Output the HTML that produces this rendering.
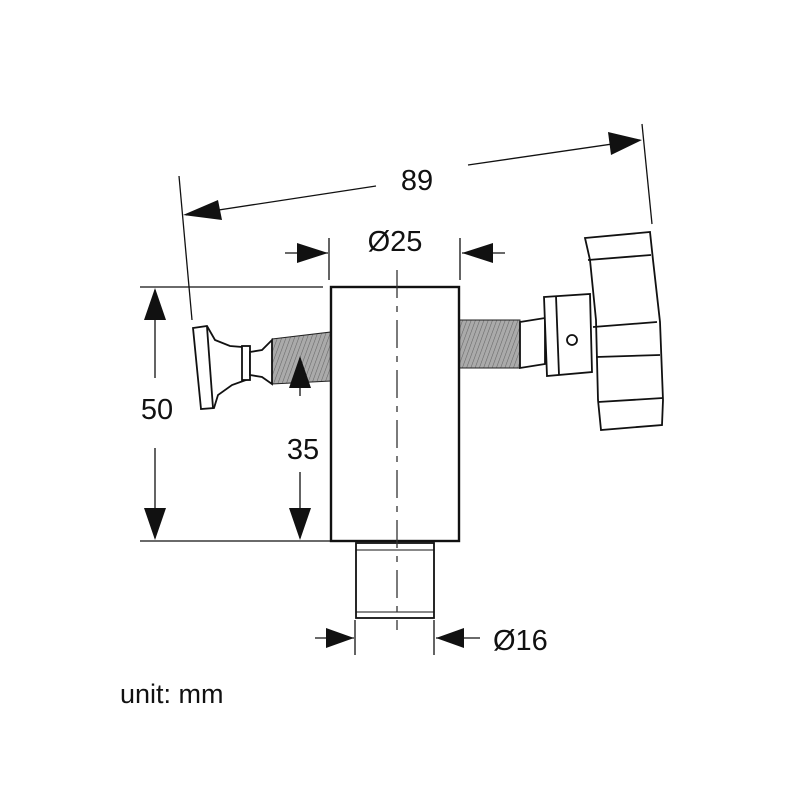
<!DOCTYPE html>
<html><head><style>body{margin:0;background:#fff}svg{display:block}text{font-family:"Liberation Sans",sans-serif;fill:#111}</style></head>
<body>
<svg width="800" height="800" viewBox="0 0 800 800" xmlns="http://www.w3.org/2000/svg">
<defs>
<pattern id="th" width="4" height="6" patternUnits="userSpaceOnUse" patternTransform="rotate(20)">
<rect width="4" height="6" fill="#aaa"/><line x1="0" y1="0" x2="0" y2="6" stroke="#666" stroke-width="1.1"/>
</pattern>
</defs>
<!-- left threads -->
<polygon points="272,339 331,332 331,381 272,384" fill="url(#th)" stroke="#222" stroke-width="1"/>
<!-- right threads -->
<rect x="459" y="320" width="61" height="48" fill="url(#th)" stroke="#222" stroke-width="1"/>
<g stroke="#111" fill="#fff" stroke-width="1.8">
<polygon points="193,328 207,326 215,340 230,346 242,347 246,380 232,385 218,395 214,408 201,409"/>
<line x1="207" y1="327" x2="213" y2="408"/>
<rect x="242" y="346" width="8" height="34"/>
<polygon points="250,352 262,350 272,340 272,384 262,377 250,375"/>
<polygon points="520,322 545,318 545,364 520,368"/>
<polygon points="544,297 590,294 592,372 547,376"/>
<line x1="556" y1="296" x2="559" y2="375"/>
<circle cx="572" cy="340" r="5"/>
<polygon points="585,238 650,232 653,260 660,322 663,400 662,425 601,430 598,400 596,320 590,260"/>
<line x1="588" y1="260" x2="651" y2="255"/>
<line x1="593" y1="327" x2="657" y2="322"/>
<line x1="596" y1="357" x2="660" y2="355"/>
<line x1="598" y1="402" x2="663" y2="398"/>
<rect x="331" y="287" width="128" height="254" stroke-width="2.4"/>
<rect x="356" y="543" width="78" height="75"/>
<line x1="356" y1="550" x2="434" y2="550" stroke-width="1"/>
<line x1="356" y1="612" x2="434" y2="612" stroke-width="1"/>
</g>
<line x1="397" y1="270" x2="397" y2="630" stroke="#333" stroke-width="1.3" stroke-dasharray="28,8,6,8"/>
<g stroke="#111" fill="none" stroke-width="1.3">
<line x1="179" y1="176" x2="192" y2="320"/>
<line x1="642" y1="124" x2="652" y2="224"/>
<line x1="186" y1="215" x2="376" y2="186"/>
<line x1="468" y1="165" x2="640" y2="140"/>
<line x1="329" y1="238" x2="329" y2="280"/>
<line x1="460" y1="238" x2="460" y2="280"/>
<line x1="285" y1="253" x2="328" y2="253"/>
<line x1="462" y1="253" x2="505" y2="253"/>
<line x1="140" y1="287" x2="323" y2="287"/>
<line x1="140" y1="541" x2="330" y2="541"/>
<line x1="155" y1="290" x2="155" y2="378"/>
<line x1="155" y1="448" x2="155" y2="538"/>
<line x1="300" y1="358" x2="300" y2="396"/>
<line x1="300" y1="472" x2="300" y2="538"/>
<line x1="355" y1="620" x2="355" y2="655"/>
<line x1="434" y1="620" x2="434" y2="655"/>
<line x1="315" y1="638" x2="354" y2="638"/>
<line x1="436" y1="638" x2="480" y2="638"/>
</g>
<g fill="#111">
<polygon points="183,215 218,200 222,220"/>
<polygon points="642,140 608,132 611,155"/>
<polygon points="328,253 297,243 297,263"/>
<polygon points="462,253 493,243 493,263"/>
<polygon points="155,288 144,320 166,320"/>
<polygon points="155,540 144,508 166,508"/>
<polygon points="300,356 289,388 311,388"/>
<polygon points="300,540 289,508 311,508"/>
<polygon points="354,638 326,628 326,648"/>
<polygon points="436,638 464,628 464,648"/>
</g>
<g font-size="29">
<text x="417" y="190" text-anchor="middle">89</text>
<text x="395" y="251" text-anchor="middle">Ø25</text>
<text x="157" y="419" text-anchor="middle">50</text>
<text x="303" y="459" text-anchor="middle">35</text>
<text x="493" y="650">Ø16</text>
<text x="120" y="703" font-size="27">unit: mm</text>
</g>
</svg>
</body></html>
